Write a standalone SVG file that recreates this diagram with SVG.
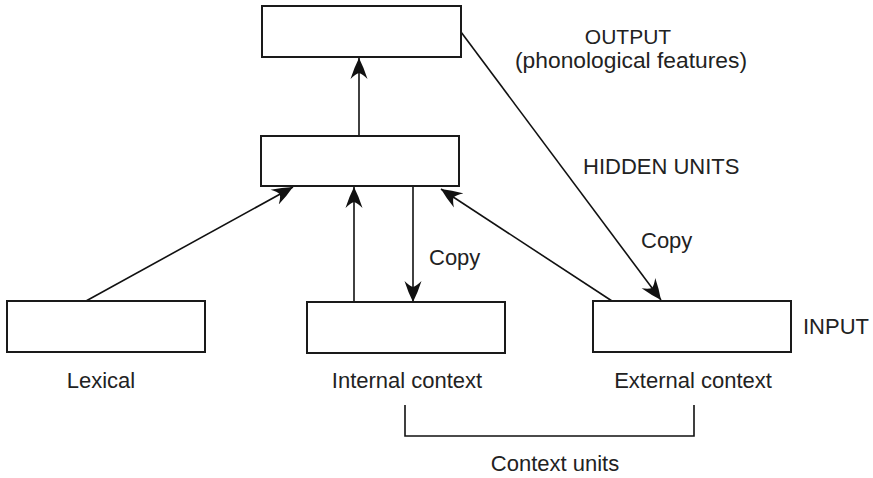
<svg xmlns="http://www.w3.org/2000/svg" width="873" height="478" viewBox="0 0 873 478">
  <style>
    .box { fill: #ffffff; stroke: #1a1a1a; stroke-width: 2; }
    .link { fill: none; stroke: #111111; stroke-width: 1.6; }
    .label { font-family: "Liberation Sans", Arial, Helvetica, sans-serif; font-size: 22px; fill: #222222; }
    .mid { text-anchor: middle; }
    .small { font-size: 21px; }
  </style>
  <defs>
    <!-- swept-back filled arrowhead, tip at the line end -->
    <marker id="head" markerUnits="userSpaceOnUse" viewBox="0 -9 22 18" refX="21" refY="0" markerWidth="22" markerHeight="18" orient="auto">
      <path d="M21,0 Q11,-5 0,-8.5 Q5,-3.5 6,0 Q5,3.5 0,8.5 Q11,5 21,0 Z" fill="#111111"/>
    </marker>
  </defs>

  <rect width="873" height="478" fill="#ffffff"/>

  <!-- connectors -->
  <g id="connectors">
    <line class="link" x1="359" y1="136" x2="359" y2="58" marker-end="url(#head)"/>
    <line class="link" x1="86" y1="301" x2="293" y2="187" marker-end="url(#head)"/>
    <line class="link" x1="354" y1="302" x2="354" y2="187" marker-end="url(#head)"/>
    <line class="link" x1="413" y1="186" x2="413" y2="302" marker-end="url(#head)"/>
    <line class="link" x1="612" y1="301" x2="441" y2="189" marker-end="url(#head)"/>
    <line class="link" x1="461" y1="32" x2="661" y2="300" marker-end="url(#head)"/>
    <polyline class="link" points="405,405 405,436 694,436 694,405"/>
  </g>

  <!-- output layer -->
  <g id="output">
    <rect class="box" x="262" y="6" width="199" height="51"/>
    <text class="label small mid" x="628" y="44">OUTPUT</text>
    <text class="label mid" x="631" y="68" textLength="232" lengthAdjust="spacingAndGlyphs">(phonological features)</text>
  </g>

  <!-- hidden layer -->
  <g id="hidden">
    <rect class="box" x="261" y="136" width="198" height="50"/>
    <text class="label" x="583" y="174">HIDDEN UNITS</text>
  </g>

  <!-- input layer -->
  <g id="lexical">
    <rect class="box" x="7" y="301" width="198" height="51"/>
    <text class="label mid" x="101" y="388">Lexical</text>
  </g>
  <g id="internal-context">
    <rect class="box" x="307" y="302" width="198" height="51"/>
    <text class="label mid" x="407" y="388">Internal context</text>
  </g>
  <g id="external-context">
    <rect class="box" x="593" y="301" width="198" height="51"/>
    <text class="label mid" x="693" y="388">External context</text>
  </g>

  <!-- annotations -->
  <g id="annotations">
    <text class="label" x="429" y="265">Copy</text>
    <text class="label" x="641" y="248">Copy</text>
    <text class="label" x="803" y="334">INPUT</text>
    <text class="label mid" x="555" y="471">Context units</text>
  </g>
</svg>
